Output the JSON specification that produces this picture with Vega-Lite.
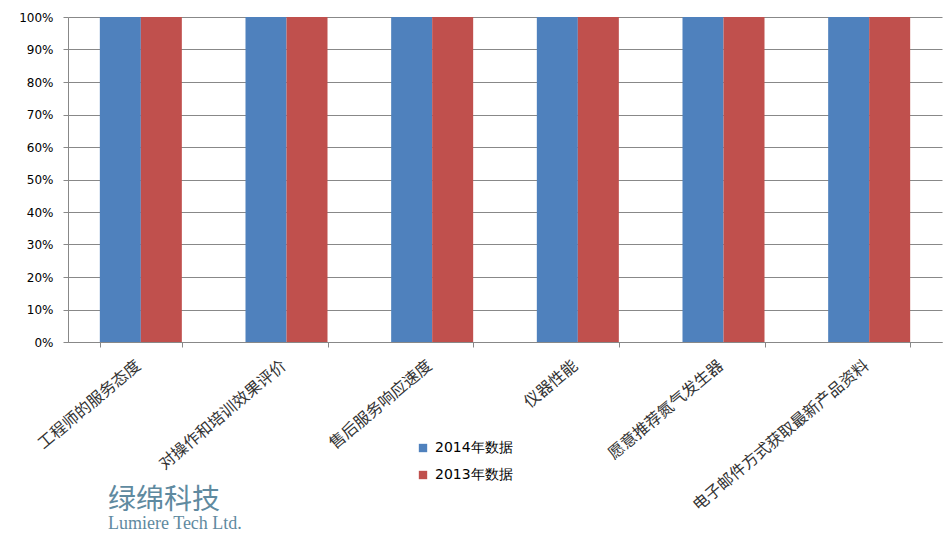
{
  "$schema": "https://vega.github.io/schema/vega-lite/v6.json",
  "width": 874,
  "height": 325,
  "autosize": {"type": "none"},
  "padding": {"left": 68, "top": 17, "right": 8, "bottom": 191},
  "background": "white",
  "config": {"view": {"stroke": null}},
  "title": {
    "text": "绿绵科技",
    "subtitle": "Lumiere Tech Ltd.",
    "orient": "bottom",
    "anchor": "start",
    "frame": "group",
    "offset": -26,
    "dx": 40,
    "font": "Noto Sans CJK SC",
    "fontSize": 28,
    "fontWeight": "normal",
    "color": "#5f8aa0",
    "subtitleFont": "Liberation Serif",
    "subtitleFontSize": 18,
    "subtitleColor": "#5f8aa0",
    "subtitlePadding": 0
  },
  "data": {
    "values": [
      {"item": "工程师的服务态度", "series": "2014年数据", "value": 1},
      {"item": "工程师的服务态度", "series": "2013年数据", "value": 1},
      {"item": "对操作和培训效果评价", "series": "2014年数据", "value": 1},
      {"item": "对操作和培训效果评价", "series": "2013年数据", "value": 1},
      {"item": "售后服务响应速度", "series": "2014年数据", "value": 1},
      {"item": "售后服务响应速度", "series": "2013年数据", "value": 1},
      {"item": "仪器性能", "series": "2014年数据", "value": 1},
      {"item": "仪器性能", "series": "2013年数据", "value": 1},
      {"item": "愿意推荐氮气发生器", "series": "2014年数据", "value": 1},
      {"item": "愿意推荐氮气发生器", "series": "2013年数据", "value": 1},
      {"item": "电子邮件方式获取最新产品资料", "series": "2014年数据", "value": 1},
      {"item": "电子邮件方式获取最新产品资料", "series": "2013年数据", "value": 1}
    ]
  },
  "mark": {"type": "bar"},
  "encoding": {
    "x": {
      "field": "item",
      "type": "nominal",
      "sort": null,
      "scale": {"paddingInner": 0.437, "paddingOuter": 0.2185},
      "axis": {
        "title": null,
        "labelAngle": -40,
        "labelAlign": "right",
        "labelBaseline": "top",
        "labelFont": "Noto Sans CJK SC",
        "labelFontSize": 16,
        "labelColor": "#333333",
        "labelPadding": 10,
        "labelOffset": -8,
        "tickBand": "extent",
        "tickColor": "#888888",
        "tickSize": 5,
        "domainColor": "#888888",
        "grid": false,
        "labelLimit": 400
      }
    },
    "xOffset": {
      "field": "series",
      "type": "nominal",
      "sort": ["2014年数据", "2013年数据"],
      "scale": {"paddingInner": 0, "paddingOuter": 0}
    },
    "y": {
      "field": "value",
      "type": "quantitative",
      "scale": {"domain": [0, 1]},
      "axis": {
        "title": null,
        "format": "%",
        "values": [0, 0.1, 0.2, 0.3, 0.4, 0.5, 0.6, 0.7, 0.8, 0.9, 1],
        "labelFont": "DejaVu Sans",
        "labelFontSize": 12,
        "labelColor": "#000000",
        "labelPadding": 10,
        "tickColor": "#888888",
        "tickSize": 5,
        "domainColor": "#888888",
        "gridColor": "#888888",
        "gridOpacity": 1
      }
    },
    "color": {
      "field": "series",
      "type": "nominal",
      "sort": ["2014年数据", "2013年数据"],
      "scale": {"domain": ["2014年数据", "2013年数据"], "range": ["#4f81bd", "#c0504d"]},
      "legend": {
        "title": null,
        "orient": "none",
        "legendX": 348,
        "legendY": 424,
        "symbolType": "square",
        "symbolSize": 70,
        "symbolStrokeWidth": 0,
        "labelFont": "DejaVu Sans",
        "labelFontSize": 14,
        "labelColor": "#000000",
        "rowPadding": 13,
        "labelOffset": 5
      }
    }
  }
}
